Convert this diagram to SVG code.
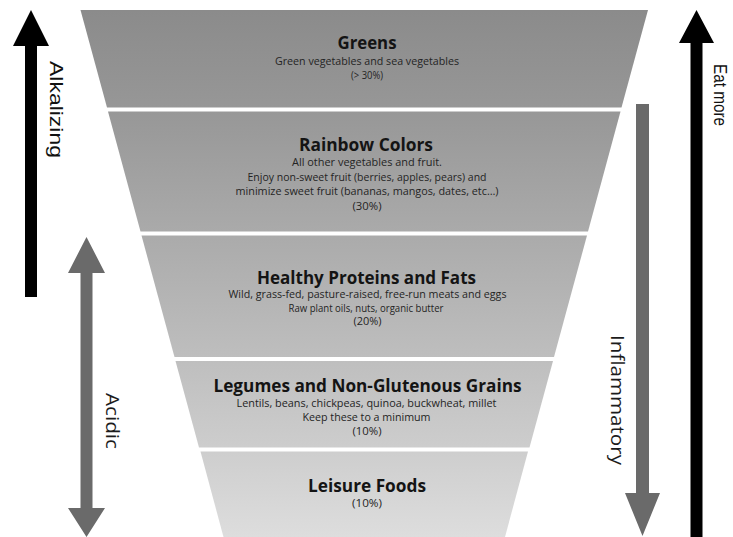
<svg xmlns="http://www.w3.org/2000/svg" width="733" height="537" viewBox="0 0 733 537">
  <defs>
    <linearGradient id="funnelShade" gradientUnits="userSpaceOnUse" x1="0" y1="10" x2="0" y2="537">
      <stop offset="0" stop-color="#8b8b8b"/>
      <stop offset="0.19" stop-color="#979797"/>
      <stop offset="0.42" stop-color="#aaaaaa"/>
      <stop offset="0.66" stop-color="#bebebe"/>
      <stop offset="0.83" stop-color="#cdcdcd"/>
      <stop offset="1" stop-color="#dddddd"/>
    </linearGradient>
  </defs>
  <style>
    .band { fill: url(#funnelShade); }
    .title { font-family: "Open Sans", "Liberation Sans", sans-serif; font-weight: bold; font-size: 18px; fill: #141414; text-anchor: middle; }
    .sub { font-family: "Open Sans", "Liberation Sans", sans-serif; font-size: 10px; fill: #242424; text-anchor: middle; }
    .side-h { font-family: "Liberation Sans", Arial, sans-serif; font-size: 19px; fill: #111111; }
    .side-m { font-family: "Open Sans", "Liberation Sans", sans-serif; font-size: 18px; fill: #1c1c1c; }
    .arrow-dark { fill: #000000; }
    .arrow-grey { fill: #6a6a6a; }
  </style>

  <rect width="733" height="537" fill="#ffffff"/>

  <!-- funnel tiers, widest at the top -->
  <g id="greens">
    <polygon class="band" points="80.5,10 648,10 621.5,107.5 107,107.5"/>
    <text class="title" x="367" y="49" textLength="59" lengthAdjust="spacingAndGlyphs">Greens</text>
    <text class="sub" x="367" y="65" textLength="184" lengthAdjust="spacingAndGlyphs">Green vegetables and sea vegetables</text>
    <text class="sub" x="367" y="79" textLength="32" lengthAdjust="spacingAndGlyphs">(&gt; 30%)</text>
  </g>

  <g id="rainbow-colors">
    <polygon class="band" points="108,111.5 620.5,111.5 588,231.5 140.5,231.5"/>
    <text class="title" x="366" y="151" textLength="134" lengthAdjust="spacingAndGlyphs">Rainbow Colors</text>
    <text class="sub" x="367" y="166" textLength="150" lengthAdjust="spacingAndGlyphs">All other vegetables and fruit.</text>
    <text class="sub" x="367" y="180.5" textLength="239" lengthAdjust="spacingAndGlyphs">Enjoy non-sweet fruit (berries, apples, pears) and</text>
    <text class="sub" x="367" y="195" textLength="263" lengthAdjust="spacingAndGlyphs">minimize sweet fruit (bananas, mangos, dates, etc…)</text>
    <text class="sub" x="367" y="209.5" textLength="29" lengthAdjust="spacingAndGlyphs">(30%)</text>
  </g>

  <g id="healthy-proteins-fats">
    <polygon class="band" points="141.5,235.5 587,235.5 554,357 174.5,357"/>
    <text class="title" x="366.5" y="283.5" textLength="219" lengthAdjust="spacingAndGlyphs">Healthy Proteins and Fats</text>
    <text class="sub" x="367.5" y="298" textLength="278" lengthAdjust="spacingAndGlyphs">Wild, grass-fed, pasture-raised, free-run meats and eggs</text>
    <text class="sub" x="366" y="311.5" textLength="155" lengthAdjust="spacingAndGlyphs">Raw plant oils, nuts, organic butter</text>
    <text class="sub" x="367.5" y="324.5" textLength="28" lengthAdjust="spacingAndGlyphs">(20%)</text>
  </g>

  <g id="legumes-grains">
    <polygon class="band" points="175.5,361 553,361 529.5,447.5 199,447.5"/>
    <text class="title" x="367.5" y="391.5" textLength="308" lengthAdjust="spacingAndGlyphs">Legumes and Non-Glutenous Grains</text>
    <text class="sub" x="366.5" y="406.5" textLength="260" lengthAdjust="spacingAndGlyphs">Lentils, beans, chickpeas, quinoa, buckwheat, millet</text>
    <text class="sub" x="366.5" y="420.5" textLength="128" lengthAdjust="spacingAndGlyphs">Keep these to a minimum</text>
    <text class="sub" x="367" y="435" textLength="29" lengthAdjust="spacingAndGlyphs">(10%)</text>
  </g>

  <g id="leisure-foods">
    <polygon class="band" points="200.5,451.5 528,451.5 505,537 223.5,537"/>
    <text class="title" x="367" y="492" textLength="118" lengthAdjust="spacingAndGlyphs">Leisure Foods</text>
    <text class="sub" x="367" y="507" textLength="30" lengthAdjust="spacingAndGlyphs">(10%)</text>
  </g>

  <!-- scale arrows on both sides -->
  <g id="connectors">
    <!-- alkalizing: up arrow, left -->
    <polygon class="arrow-dark" points="31,10 49,46 37,46 37,297 25,297 25,46 13,46"/>
    <!-- acidic: double-headed arrow -->
    <polygon class="arrow-grey" points="86.5,237 105,273 92.5,273 92.5,508 105,508 86.5,537 68,508 80.5,508 80.5,273 68,273"/>
    <!-- inflammatory: down arrow -->
    <polygon class="arrow-grey" points="636,104 649,104 649,493 660,493 642.5,536 625,493 636,493"/>
    <!-- eat more: up arrow, right -->
    <polygon class="arrow-dark" points="696.5,10 714,43 702.5,43 702.5,537 690.5,537 690.5,43 679,43"/>
  </g>

  <g id="label-alkalizing">
    <text class="side-h" transform="translate(50,61) rotate(90)" textLength="97" lengthAdjust="spacingAndGlyphs">Alkalizing</text>
  </g>
  <g id="label-acidic">
    <text class="side-m" transform="translate(106,393) rotate(90)" textLength="56" lengthAdjust="spacingAndGlyphs">Acidic</text>
  </g>
  <g id="label-inflammatory">
    <text class="side-m" transform="translate(611,335) rotate(90)" textLength="130" lengthAdjust="spacingAndGlyphs">Inflammatory</text>
  </g>
  <g id="label-eat-more">
    <text class="side-h" transform="translate(714,64) rotate(90)" textLength="62" lengthAdjust="spacingAndGlyphs">Eat more</text>
  </g>
</svg>
